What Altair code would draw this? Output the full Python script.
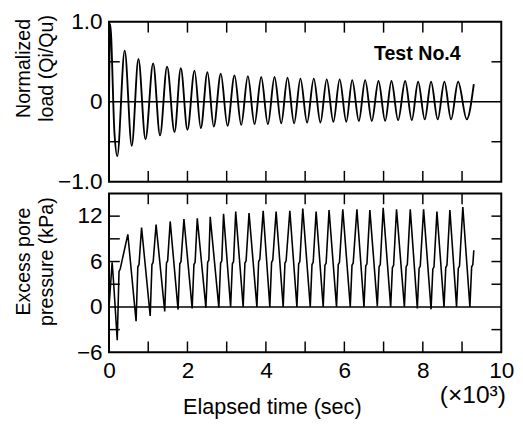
import altair as alt
import pandas as pd

FONT = "Liberation Sans"
INK = "#000000"

# ---------------- Top panel: normalized load (Qi/Qu) ----------------
load_start_t = [0.0, 0.03, 0.14]
load_start_v = [0.0, 0.97, -0.40]
load_trough_t = [0.21, 0.58, 0.93, 1.30, 1.67, 2.00, 2.34, 2.67, 3.02, 3.37, 3.71, 4.05, 4.39,
                 4.72, 5.05, 5.39, 5.72, 6.05, 6.37, 6.70, 7.04, 7.37, 7.72, 8.05, 8.38, 8.72, 9.12]
load_trough_v = [-0.68, -0.55, -0.47, -0.42, -0.38, -0.35, -0.33, -0.31, -0.30, -0.29, -0.28, -0.28, -0.27,
                 -0.27, -0.26, -0.26, -0.25, -0.25, -0.24, -0.24, -0.24, -0.23, -0.23, -0.22, -0.22, -0.22, -0.22]
load_peak_t = [0.40, 0.75, 1.125, 1.48, 1.83, 2.18, 2.51, 2.85, 3.20, 3.54, 3.88, 4.22, 4.55,
               4.88, 5.22, 5.55, 5.88, 6.20, 6.53, 6.87, 7.20, 7.55, 7.88, 8.21, 8.55, 8.90]
load_peak_v = [0.64, 0.535, 0.48, 0.44, 0.42, 0.39, 0.37, 0.35, 0.33, 0.32, 0.31, 0.31, 0.30,
               0.29, 0.29, 0.28, 0.28, 0.27, 0.27, 0.26, 0.26, 0.26, 0.25, 0.25, 0.25, 0.25]
load_end_t = [9.30]
load_end_v = [0.22]

# ---------------- Bottom panel: excess pore pressure (kPa) ----------------
pore_start_t = [0.0, 0.08, 0.12]
pore_start_v = [0.0, 5.9, 3.0]
pore_trough_t = [0.21, 0.69, 1.05, 1.42, 1.76, 2.12, 2.47, 2.80, 3.10, 3.42, 3.77, 4.10, 4.44,
                 4.79, 5.13, 5.46, 5.80, 6.15, 6.50, 6.84, 7.18, 7.53, 7.86, 8.21, 8.54, 8.86, 9.20]
pore_trough_v = [-4.4, -1.9, -1.2, -0.6, -0.35, -0.2, -0.1, -0.1, 0.0, 0.0, 0.0, 0.0, 0.0,
                 0.0, 0.0, 0.0, 0.0, 0.0, 0.0, 0.1, 0.0, 0.0, -0.2, -0.3, 0.0, 0.0, 0.0]
pore_kink_v = [4.7, 5.3, 5.6, 5.8, 5.7, 5.6, 5.9, 5.8, 5.7, 5.8, 6.0, 5.9, 5.8,
               5.7, 5.6, 5.5, 5.6, 5.5, 5.4, 5.3, 5.2, 5.3, 5.1, 5.0, 5.2, 5.1, 5.3]
pore_peak_t = [0.48, 0.83, 1.20, 1.56, 1.91, 2.25, 2.58, 2.92, 3.23, 3.57, 3.93, 4.26, 4.61,
               4.94, 5.28, 5.61, 5.96, 6.32, 6.65, 6.99, 7.33, 7.68, 8.02, 8.36, 8.69, 9.02]
pore_peak_v = [9.6, 10.5, 10.9, 11.3, 11.6, 11.7, 11.9, 12.3, 12.6, 12.4, 12.7, 12.6, 12.7,
               13.0, 12.6, 12.8, 12.9, 12.9, 12.8, 13.1, 12.9, 12.9, 12.9, 12.6, 12.8, 13.2]
pore_end_t = [9.30]
pore_end_v = [7.5]

# axis ticks / labels
x_tick_values = [1, 2, 3, 4, 5, 6, 7, 8, 9]
x_label_values = [0, 2, 4, 6, 8, 10]
load_tick_values = [-0.5, 0.5]
load_label_values = [-1, 0, 1]
pore_tick_values = [-3, 3, 6, 9, 12]
pore_label_values = [-6, 0, 6, 12]

# annotations
panel_label = "Test No.4"
panel_label_t, panel_label_v = [7.86], [0.60]

# ---------------- tables ----------------
load_df = pd.DataFrame({
    "t": load_start_t + load_trough_t + load_peak_t + load_end_t,
    "v": load_start_v + load_trough_v + load_peak_v + load_end_v,
}).sort_values("t")

KINK_DT, SHELF_DT = 0.045, 0.075
pore_t = list(pore_start_t) + list(pore_peak_t) + list(pore_end_t)
pore_v = list(pore_start_v) + list(pore_peak_v) + list(pore_end_v)
for tt, tv, kv in zip(pore_trough_t, pore_trough_v, pore_kink_v):
    pore_t += [tt, tt + KINK_DT, tt + SHELF_DT]
    pore_v += [tv, kv, kv + 0.3]
pore_df = pd.DataFrame({"t": pore_t, "v": pore_v}).sort_values("t")

zero_df = pd.DataFrame({"v": [0]})
label_df = pd.DataFrame({"t": panel_label_t, "v": panel_label_v, "s": [panel_label]})
unit_df = pd.DataFrame({"s": ["(\u00d710\u00b3)"]})

W, H1, H2 = 400, 163, 162
xscale = alt.Scale(domain=[0, 10], nice=False, zero=False)
load_scale = alt.Scale(domain=[-1, 1], nice=False, zero=False)
pore_scale = alt.Scale(domain=[-6, 15], nice=False, zero=False)


def tick_layers(y_values, yscale, h, xaxis_none):
    xt = pd.DataFrame({"t": x_tick_values})
    yt = pd.DataFrame({"v": y_values})
    xenc = alt.X("t:Q", scale=xscale, axis=None) if xaxis_none else alt.X("t:Q", scale=xscale)
    yenc = alt.Y("v:Q", scale=yscale)
    rule = dict(color=INK, strokeWidth=1.5)
    return [
        alt.Chart(xt).mark_rule(**rule).encode(x=xenc, y=alt.value(0), y2=alt.value(11)),
        alt.Chart(xt).mark_rule(**rule).encode(x=xenc, y=alt.value(h - 11), y2=alt.value(h)),
        alt.Chart(yt).mark_rule(**rule).encode(y=yenc, x=alt.value(0), x2=alt.value(11)),
        alt.Chart(yt).mark_rule(**rule).encode(y=yenc, x=alt.value(W - 10), x2=alt.value(W)),
    ]


# ---------------- top panel ----------------
top_line = alt.Chart(load_df).mark_line(color=INK, strokeWidth=1.9, interpolate="monotone").encode(
    x=alt.X("t:Q", scale=xscale, axis=None),
    y=alt.Y("v:Q", scale=load_scale,
            axis=alt.Axis(values=load_label_values,
                          labelExpr="datum.value == 0 ? '0' : (datum.value > 0 ? '1.0' : '\u22121.0')",
                          title=["Normalized", "load (Qi/Qu)"], titleY=47)),
)
top_zero = alt.Chart(zero_df).mark_rule(color=INK, strokeWidth=1.5).encode(
    y=alt.Y("v:Q", scale=load_scale))
top_text = alt.Chart(label_df).mark_text(font=FONT, fontSize=20, fontWeight="bold", color=INK).encode(
    x=alt.X("t:Q", scale=xscale, axis=None), y=alt.Y("v:Q", scale=load_scale), text="s:N")
top = alt.layer(top_line, top_zero, top_text,
                *tick_layers(load_tick_values, load_scale, H1, True)).properties(width=W, height=H1)

# ---------------- bottom panel ----------------
bot_line = alt.Chart(pore_df).mark_line(color=INK, strokeWidth=1.6).encode(
    x=alt.X("t:Q", scale=xscale,
            axis=alt.Axis(values=x_label_values, format="d", labelFlush=False,
                          title="Elapsed time (sec)")),
    y=alt.Y("v:Q", scale=pore_scale,
            axis=alt.Axis(values=pore_label_values, title=["Excess pore", "pressure (kPa)"], titleY=69)),
)
bot_zero = alt.Chart(zero_df).mark_rule(color=INK, strokeWidth=1.5).encode(
    y=alt.Y("v:Q", scale=pore_scale))
bot_text = alt.Chart(unit_df).mark_text(font=FONT, fontSize=25, color=INK).encode(
    x=alt.value(371), y=alt.value(206), text="s:N")
bottom = alt.layer(bot_line, bot_zero, bot_text,
                   *tick_layers(pore_tick_values, pore_scale, H2, False)).properties(width=W, height=H2)

chart = alt.vconcat(top, bottom, spacing=12, bounds="flush").properties(
    padding={"left": 4, "top": -2, "right": 0, "bottom": 2},
    background="white",
).configure_view(
    stroke=INK, strokeWidth=2
).configure_axis(
    ticks=False, tickSize=0, domain=False, grid=False, labelOverlap=False,
    labelFont=FONT, labelFontSize=23, labelColor=INK,
    titleFont=FONT, titleFontWeight="normal", titleColor=INK,
).configure_axisLeft(
    labelPadding=7, titleFontSize=20, titleAngle=270, titleAlign="center",
    titleBaseline="bottom", titleLineHeight=23, titleX=-77,
).configure_axisBottom(
    labelPadding=8, titleFontSize=22, titleX=166, titleY=55, titleBaseline="middle", titleAlign="center",
)

chart.save("out.html", embed_options={"renderer": "svg", "actions": False})
